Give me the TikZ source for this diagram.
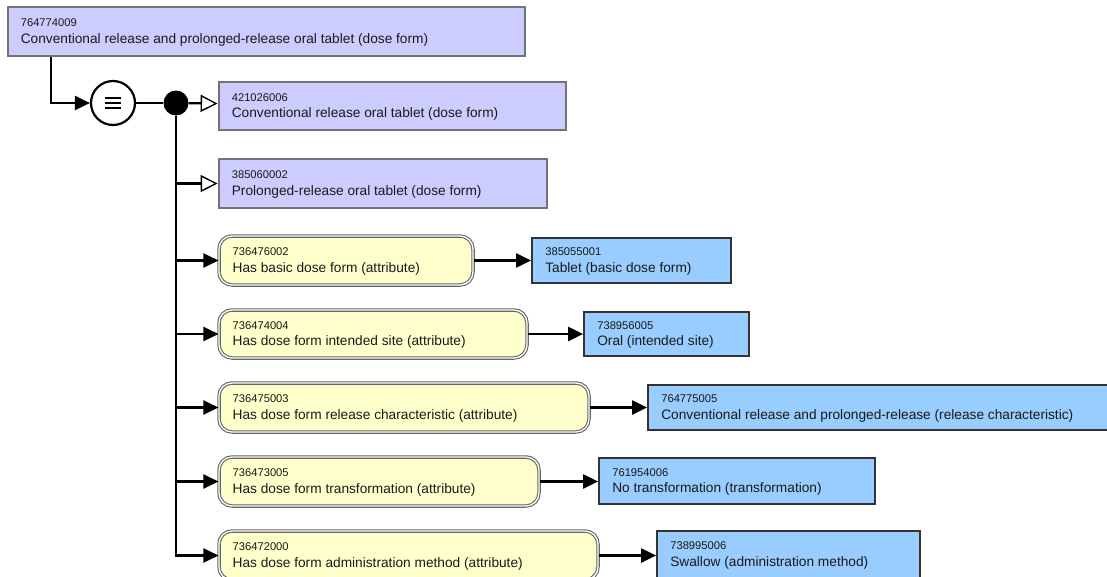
\documentclass[tikz,border=0pt]{standalone}
\usepackage{fontspec}
\setmainfont{Liberation Sans}
\usetikzlibrary{arrows.meta}
\definecolor{lav}{HTML}{CCCCFF}
\definecolor{ylw}{HTML}{FFFFCC}
\definecolor{sky}{HTML}{99CCFF}
\definecolor{ink}{HTML}{1A1A1A}
\tikzset{
  conc/.style={draw=black!55, line width=2.8pt, fill=lav, inner sep=0pt},
  attr/.style={draw=black!60, double=white, double distance=1.3pt, line width=1.1pt, fill=ylw, rounded corners=13pt, inner sep=0pt},
  val/.style={draw=black!80, line width=1.8pt, fill=sky, inner sep=0pt},
  idtext/.style={anchor=west, inner sep=0pt, text=ink, font=\fontsize{11.2}{13}\selectfont},
  lbtext/.style={anchor=west, inner sep=0pt, text=ink, font=\fontsize{13.7}{16}\selectfont},
  conn/.style={line width=2.2pt, draw=black},
  farr/.style={conn, -{Triangle[length=15pt,width=14pt]}},
  oarr/.style={conn, -{Triangle[open,length=17pt,width=17pt,fill=white,line width=1.4pt]}},
}
\newcommand\cbox[8]{%
  \node[#1, minimum width={#4-#2}, minimum height={#5-#3}] (#6) at ({(#2+#4)/2},{(#3+#5)/2}) {};
  \node[idtext] (#6id) at ([xshift=14pt,yshift=8.5pt]#6.west) {#7};
  \node[lbtext] (#6lb) at ([xshift=14pt,yshift=-8pt]#6.west) {#8};
}
\begin{document}
\begin{tikzpicture}[x=1pt,y=-1pt]
\useasboundingbox (0,0) rectangle (1107,576);
\fill[white] (0,0) rectangle (1107,576);

\cbox{conc}{8}{7}{525}{56}{top}{764774009}{Conventional release and prolonged-release oral tablet (dose form)}
\cbox{conc}{219}{82}{566}{130}{p1}{421026006}{Conventional release oral tablet (dose form)}
\cbox{conc}{219}{159}{547}{208}{p2}{385060002}{Prolonged-release oral tablet (dose form)}

\cbox{attr}{219}{236}{473}{285}{a1}{736476002}{Has basic dose form (attribute)}
\cbox{val}{532}{238}{731}{283}{v1}{385055001}{Tablet (basic dose form)}
\cbox{attr}{219}{310}{527}{358}{a2}{736474004}{Has dose form intended site (attribute)}
\cbox{val}{584}{312}{749}{356}{v2}{738956005}{Oral (intended site)}
\cbox{attr}{219}{383}{589}{432}{a3}{736475003}{Has dose form release characteristic (attribute)}
\cbox{val}{648}{385}{1110}{430}{v3}{764775005}{Conventional release and prolonged-release (release characteristic)}
\cbox{attr}{219}{457}{539}{506}{a4}{736473005}{Has dose form transformation (attribute)}
\cbox{val}{599}{458}{875}{504}{v4}{761954006}{No transformation (transformation)}
\cbox{attr}{219}{531}{598}{580}{a5}{736472000}{Has dose form administration method (attribute)}
\cbox{val}{657}{531}{920}{578}{v5}{738995006}{Swallow (administration method)}

\node[circle, draw=black, line width=2.2pt, fill=white, minimum size=44pt, inner sep=0pt] (eq) at (113,103) {};
\foreach \dy in {-5,0,5}
  \draw[line width=2.6pt] ([xshift=-8pt,yshift=\dy pt]eq.center) -- ([xshift=8pt,yshift=\dy pt]eq.center);
\node[circle, fill=black, minimum size=25pt, inner sep=0pt] (dot) at (176,103) {};

\draw[farr] (top.south west) ++(44,0) |- (eq);
\draw[conn] (eq) -- (dot);
\draw[oarr] (dot) -- (p1);
\draw[oarr] (dot) |- (p2);
\foreach \n in {a1,a2,a3,a4,a5}
  \draw[farr] (dot) |- (\n);
\foreach \a/\v in {a1/v1,a2/v2,a3/v3,a4/v4,a5/v5}
  \draw[farr] (\a.east) -- (\a.east -| \v.west);
\end{tikzpicture}
\end{document}
